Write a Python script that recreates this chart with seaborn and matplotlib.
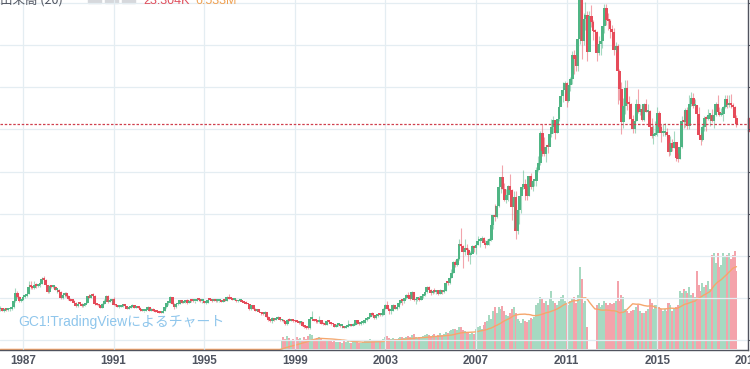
import matplotlib.pyplot as plt
import matplotlib.patches as mpatches
import numpy as np
import pandas as pd
import seaborn as sns

# GC1! monthly candles, Jan 1986 .. Jul 2018 (USD / oz)
first_open = 345
closes = [
    350, 340, 345, 343, 345, 345, 357, 385, 425, 402, 385, 391,  # 1986
    405, 407, 420, 454, 452, 448, 462, 455, 460, 467, 492, 486,  # 1987
    460, 427, 456, 452, 453, 437, 438, 430, 398, 412, 423, 410,  # 1988
    395, 387, 385, 378, 363, 373, 372, 360, 368, 377, 410, 401,  # 1989
    412, 410, 370, 368, 364, 353, 372, 387, 408, 380, 384, 393,  # 1990
    366, 364, 356, 357, 360, 368, 362, 347, 354, 358, 366, 353,  # 1991
    355, 354, 342, 336, 337, 343, 356, 340, 349, 339, 334, 333,  # 1992
    330, 328, 337, 355, 377, 378, 402, 372, 356, 369, 371, 391,  # 1993
    378, 382, 391, 376, 387, 386, 385, 386, 395, 389, 384, 384,  # 1994
    376, 377, 391, 390, 386, 388, 384, 384, 385, 382, 388, 387,  # 1995
    405, 397, 396, 392, 392, 383, 387, 388, 380, 378, 372, 369,  # 1996
    345, 364, 349, 340, 345, 334, 326, 325, 333, 311, 297, 290,  # 1997
    304, 297, 301, 310, 293, 296, 288, 274, 297, 292, 294, 289,  # 1998
    288, 287, 280, 287, 268, 262, 256, 255, 300, 300, 292, 289,  # 1999
    285, 294, 277, 274, 273, 290, 284, 278, 274, 264, 270, 273,  # 2000
    266, 267, 258, 264, 266, 271, 266, 273, 293, 279, 275, 279,  # 2001
    283, 297, 301, 309, 327, 318, 304, 312, 324, 318, 318, 348,  # 2002
    368, 348, 336, 339, 364, 347, 355, 376, 388, 384, 398, 416,  # 2003
    403, 397, 427, 388, 394, 395, 391, 410, 416, 429, 453, 438,  # 2004
    423, 435, 430, 436, 418, 436, 430, 434, 473, 471, 496, 518,  # 2005
    570, 557, 586, 655, 646, 616, 636, 627, 604, 607, 648, 638,  # 2006
    652, 669, 669, 683, 659, 652, 669, 673, 748, 795, 783, 838,  # 2007
    928, 975, 917, 865, 889, 930, 914, 830, 880, 718, 817, 884,  # 2008
    928, 942, 916, 884, 980, 927, 955, 955, 1008, 1040, 1182, 1097,  # 2009
    1082, 1118, 1115, 1180, 1212, 1245, 1181, 1248, 1309, 1359, 1386, 1421,  # 2010
    1333, 1411, 1439, 1556, 1536, 1502, 1628, 1828, 1620, 1725, 1746, 1566,  # 2011
    1738, 1710, 1669, 1664, 1561, 1604, 1622, 1692, 1776, 1719, 1714, 1675,  # 2012
    1663, 1578, 1596, 1476, 1393, 1234, 1313, 1396, 1327, 1323, 1250, 1202,  # 2013
    1240, 1321, 1284, 1295, 1246, 1322, 1282, 1287, 1210, 1171, 1175, 1184,  # 2014
    1279, 1212, 1183, 1183, 1190, 1172, 1095, 1134, 1114, 1142, 1064, 1061,  # 2015
    1118, 1238, 1234, 1291, 1215, 1322, 1351, 1311, 1317, 1273, 1174, 1152,  # 2016
    1211, 1254, 1251, 1269, 1269, 1242, 1269, 1322, 1285, 1271, 1275, 1309,  # 2017
    1345, 1318, 1327, 1316, 1305, 1254, 1224,  # 2018
]
highs = [
    362, 352, 350, 350, 348, 350, 360, 390, 445, 432, 410, 396,
    412, 410, 422, 482, 478, 455, 478, 472, 466, 482, 500, 502,
    488, 462, 460, 461, 462, 458, 440, 444, 432, 415, 426, 428,
    412, 400, 396, 390, 380, 379, 379, 376, 369, 377, 410, 420,
    420, 424, 412, 375, 372, 366, 374, 395, 415, 412, 387, 396,
    406, 370, 366, 362, 363, 370, 370, 362, 355, 363, 370, 367,
    362, 358, 355, 344, 340, 345, 362, 357, 352, 350, 341, 336,
    333, 332, 339, 358, 378, 382, 408, 406, 374, 375, 380, 392,
    392, 385, 392, 394, 389, 394, 388, 387, 398, 396, 392, 385,
    384, 380, 394, 397, 393, 390, 391, 388, 387, 387, 389, 390,
    410, 418, 401, 400, 395, 393, 389, 390, 389, 383, 385, 373,
    369, 366, 366, 350, 349, 346, 335, 332, 336, 335, 312, 300,
    307, 305, 303, 315, 310, 301, 298, 290, 300, 304, 298, 297,
    293, 292, 290, 291, 291, 270, 264, 261, 305, 338, 300, 296,
    290, 314, 296, 284, 280, 294, 294, 285, 279, 276, 274, 276,
    273, 268, 268, 264, 293, 275, 272, 279, 296, 294, 284, 280,
    285, 298, 302, 311, 328, 332, 320, 316, 325, 326, 322, 350,
    370, 383, 350, 341, 373, 367, 357, 376, 391, 393, 399, 417,
    428, 418, 431, 428, 398, 398, 409, 411, 419, 435, 456, 457,
    441, 439, 447, 437, 436, 442, 438, 447, 475, 479, 497, 539,
    575, 578, 588, 681, 732, 652, 680, 658, 637, 625, 652, 650,
    665, 693, 673, 695, 690, 676, 682, 684, 752, 795, 848, 840,
    936, 975, 1033, 948, 918, 937, 988, 919, 908, 909, 830, 884,
    929, 1006, 964, 932, 980, 992, 962, 963, 1022, 1072, 1194, 1227,
    1162, 1128, 1135, 1182, 1250, 1265, 1246, 1250, 1315, 1388, 1424, 1432,
    1425, 1413, 1447, 1574, 1577, 1556, 1632, 1911, 1923, 1755, 1804, 1764,
    1764, 1791, 1720, 1677, 1667, 1642, 1632, 1692, 1796, 1798, 1754, 1726,
    1696, 1681, 1616, 1605, 1488, 1424, 1348, 1434, 1434, 1361, 1326, 1267,
    1280, 1345, 1392, 1322, 1315, 1326, 1345, 1322, 1292, 1255, 1223, 1239,
    1307, 1290, 1224, 1225, 1232, 1205, 1175, 1170, 1157, 1192, 1142, 1089,
    1128, 1263, 1287, 1304, 1306, 1362, 1377, 1375, 1345, 1318, 1306, 1181,
    1220, 1264, 1262, 1296, 1274, 1298, 1273, 1331, 1362, 1306, 1300, 1311,
    1366, 1365, 1365, 1369, 1327, 1310, 1267,
]
lows = [
    337, 336, 335, 336, 337, 338, 341, 352, 382, 400, 380, 380,
    388, 398, 402, 418, 442, 440, 442, 449, 452, 453, 466, 478,
    454, 423, 424, 446, 448, 436, 424, 428, 393, 395, 405, 405,
    392, 384, 380, 378, 357, 357, 366, 357, 355, 360, 376, 398,
    400, 408, 367, 365, 362, 350, 352, 370, 385, 378, 379, 377,
    365, 360, 355, 352, 356, 358, 360, 346, 346, 352, 358, 352,
    350, 352, 340, 336, 333, 336, 342, 339, 339, 338, 331, 331,
    326, 326, 327, 337, 351, 368, 377, 370, 348, 354, 367, 370,
    375, 376, 378, 372, 376, 379, 380, 377, 385, 387, 382, 378,
    374, 373, 375, 389, 382, 385, 382, 381, 381, 381, 382, 385,
    386, 394, 395, 389, 389, 382, 380, 385, 379, 377, 370, 366,
    344, 342, 348, 337, 339, 334, 318, 318, 320, 308, 291, 284,
    279, 290, 294, 298, 291, 288, 287, 272, 273, 289, 292, 284,
    285, 285, 278, 278, 268, 257, 253, 252, 254, 298, 290, 280,
    280, 283, 275, 272, 270, 272, 280, 271, 270, 264, 262, 268,
    263, 256, 256, 255, 263, 266, 265, 265, 270, 277, 272, 271,
    277, 280, 289, 300, 307, 315, 302, 301, 311, 316, 316, 318,
    346, 345, 322, 322, 338, 345, 343, 352, 371, 368, 378, 397,
    399, 391, 395, 386, 373, 384, 386, 389, 401, 411, 423, 428,
    416, 418, 424, 420, 415, 417, 418, 425, 433, 459, 468, 494,
    519, 546, 553, 582, 637, 543, 605, 620, 574, 562, 614, 618,
    608, 650, 640, 670, 656, 637, 650, 650, 670, 725, 765, 781,
    830, 896, 916, 862, 851, 859, 900, 772, 734, 681, 705, 753,
    803, 919, 864, 866, 882, 917, 908, 932, 932, 1004, 1030, 1074,
    1075, 1044, 1086, 1122, 1166, 1182, 1157, 1184, 1240, 1318, 1330, 1374,
    1308, 1330, 1381, 1418, 1462, 1478, 1478, 1604, 1535, 1603, 1671, 1523,
    1577, 1688, 1627, 1627, 1527, 1553, 1555, 1585, 1658, 1694, 1672, 1636,
    1626, 1555, 1568, 1321, 1339, 1180, 1208, 1272, 1292, 1252, 1221, 1181,
    1182, 1240, 1277, 1268, 1240, 1240, 1281, 1274, 1204, 1161, 1131, 1167,
    1167, 1197, 1142, 1167, 1170, 1162, 1072, 1077, 1098, 1112, 1052, 1046,
    1061, 1111, 1208, 1211, 1200, 1202, 1310, 1303, 1305, 1241, 1161, 1124,
    1146, 1191, 1195, 1245, 1215, 1236, 1205, 1266, 1277, 1262, 1264, 1238,
    1303, 1304, 1308, 1302, 1285, 1251, 1211,
]
# monthly volume in thousands of contracts, Jun 1998 .. Jul 2018
volumes = [
    400, 600, 500, 650, 550, 450, 500,  # 1998
    450, 600, 500, 550, 450, 600, 500, 650, 750, 700, 450, 500,  # 1999
    550, 600, 500, 450, 400, 450, 400, 400, 350, 400, 350, 350,  # 2000
    350, 300, 400, 350, 450, 300, 300, 350, 450, 350, 300, 300,  # 2001
    350, 450, 400, 450, 500, 450, 400, 400, 450, 400, 400, 500,  # 2002
    600, 650, 550, 500, 550, 500, 500, 550, 600, 600, 550, 600,  # 2003
    650, 600, 700, 750, 600, 550, 600, 600, 650, 700, 750, 700,  # 2004
    650, 700, 750, 650, 700, 800, 700, 750, 850, 800, 900, 950,  # 2005
    1000, 1000, 950, 1100, 1100, 950, 900, 800, 800, 750, 800, 750,  # 2006
    1000, 1100, 1150, 1000, 1200, 1350, 1400, 1700, 1500, 1900, 2100, 1800,  # 2007
    2100, 2000, 2150, 1900, 1700, 1650, 1800, 2000, 2100, 1800, 1500, 1400,  # 2008
    1300, 1500, 1400, 1350, 1450, 1550, 1500, 1600, 2200, 2300, 2600, 2500,  # 2009
    2300, 2400, 2200, 2500, 2900, 2400, 2300, 2200, 2400, 2600, 2700, 2400,  # 2010
    2300, 2200, 2400, 2500, 2600, 2300, 2700, 4100, 3500, 2300, 2400, 1100,  # 2011
    0, 0, 0, 0, 2200, 2300, 2100, 2200, 2400, 2300, 2200, 2300,  # 2012
    2250, 2300, 2400, 3400, 2400, 2700, 2600, 2000, 1900, 1800, 1900, 1950,  # 2013
    1950, 2100, 2200, 1900, 1800, 1800, 1900, 2000, 2500, 2300, 2000, 2200,  # 2014
    2200, 2100, 2000, 1900, 2000, 1900, 2300, 2200, 1900, 2000, 2100, 2200,  # 2015
    2900, 2800, 3000, 2900, 2800, 3100, 2700, 2800, 2600, 3900, 3200, 2900,  # 2016
    3300, 3100, 3200, 3400, 3000, 4700, 4800, 4300, 4800, 4100, 4200, 4800,  # 2017
    4600, 4700, 4800, 4500, 4700, 4900, 3900,  # 2018
]
year_ticks = list(range(1987, 2020, 4))
price_ticks = list(range(200, 1801, 200))

UP, DOWN = "#4fb584", "#e64b5a"
UP_VOL, DOWN_VOL = "#a6d9c1", "#f4a3ab"

n = len(closes)
df = pd.DataFrame({
    "t": 1986 + np.arange(n) / 12,
    "open": [first_open] + closes[:-1],
    "high": highs,
    "low": lows,
    "close": closes,
})
df["volume"] = [0] * (n - len(volumes)) + volumes
df["vol_ma"] = df["volume"].rolling(20, min_periods=1).mean()
df["up"] = df["close"] >= df["open"]

sns.set_theme(style="white")
plt.rcParams["font.family"] = ["Liberation Sans", "Noto Sans CJK JP", "DejaVu Sans"]

fig = plt.figure(figsize=(7.5, 3.69), dpi=100)
ax = fig.add_axes([0, 19 / 369, 748 / 750, 350 / 369])
ax_vol = ax.twinx()
ax.set_zorder(2)
ax.patch.set_visible(False)
ax_vol.set_zorder(1)

# volume + MA
vol_colors = np.where(df["up"], UP_VOL, DOWN_VOL)
ax_vol.bar(df["t"], df["volume"], width=0.09, color=vol_colors, linewidth=0)
sns.lineplot(data=df, x="t", y="vol_ma", ax=ax_vol, color="#f5a66c", linewidth=1.0)
ax_vol.set_ylim(-30, 17470)
ax_vol.set_yticks([])
ax_vol.set_ylabel("")
for s in ax_vol.spines.values():
    s.set_visible(False)

# candles
cols = np.where(df["up"], UP, DOWN)
body_lo = df[["open", "close"]].min(axis=1)
body_h = np.maximum((df["close"] - df["open"]).abs(), 9)
ax.vlines(df["t"], df["low"], df["high"], colors=cols, linewidth=0.8, alpha=0.5)
ax.bar(df["t"], body_h, bottom=body_lo, width=0.13, color=cols, linewidth=0)

last = closes[-1]
ax.axhline(last, color="#d0404f", linewidth=0.9, linestyle=(0, (2, 1.4)))

ax.set_xticks(year_ticks)
ax.set_xticklabels([str(y) for y in year_ticks])
ax.set_yticks(price_ticks)
ax.set_xlim(1985.985, 2019.01)
ax.set_ylim(152.5, 1815)
ax.yaxis.tick_right()
ax.tick_params(axis="y", right=True, length=3, width=0.8, color="#50535e", labelright=False)
ax.tick_params(axis="x", bottom=False, length=0, pad=3.5, labelsize=8.4, labelcolor="#4f5460")
for lab in ax.get_xticklabels():
    lab.set_fontweight("bold")
ax.grid(True, color="#e4edf2", linewidth=0.9)
for side in ("top", "left"):
    ax.spines[side].set_visible(False)
for side in ("right", "bottom"):
    ax.spines[side].set_color("#50535e")
    ax.spines[side].set_linewidth(1.0)

# watermark
ax.text(0.024, 0.08, "GC1!TradingViewによるチャート", transform=ax.transAxes,
        fontsize=10, color="#8fc6ec", family=["Liberation Sans", "Noto Sans CJK JP"],
        va="center", ha="left")

# price tag on the right edge
fig.patches.append(mpatches.Rectangle((748 / 750, 1 - 131 / 369), 2 / 750, 13 / 369,
                                      transform=fig.transFigure, color="#e0505d"))

# cut-off legend line at the very top
top = 1 - 3.5 / 369
fig.text(0 / 750, top, "出来高 (20)", fontsize=9, color="#4f5460", va="baseline",
         family=["Noto Sans CJK JP", "DejaVu Sans"])
for x0 in (88, 105, 122):
    fig.patches.append(mpatches.Rectangle((x0 / 750, 1 - 3 / 369), 13 / 750, 8 / 369,
                                          transform=fig.transFigure, color="#d6d8dc"))
fig.text(143 / 750, top, "23.304K", fontsize=9, color="#e0505d", va="baseline")
fig.text(195 / 750, top, "6.533M", fontsize=9, color="#f0a050", va="baseline")

fig.savefig("out.png", dpi=100)
